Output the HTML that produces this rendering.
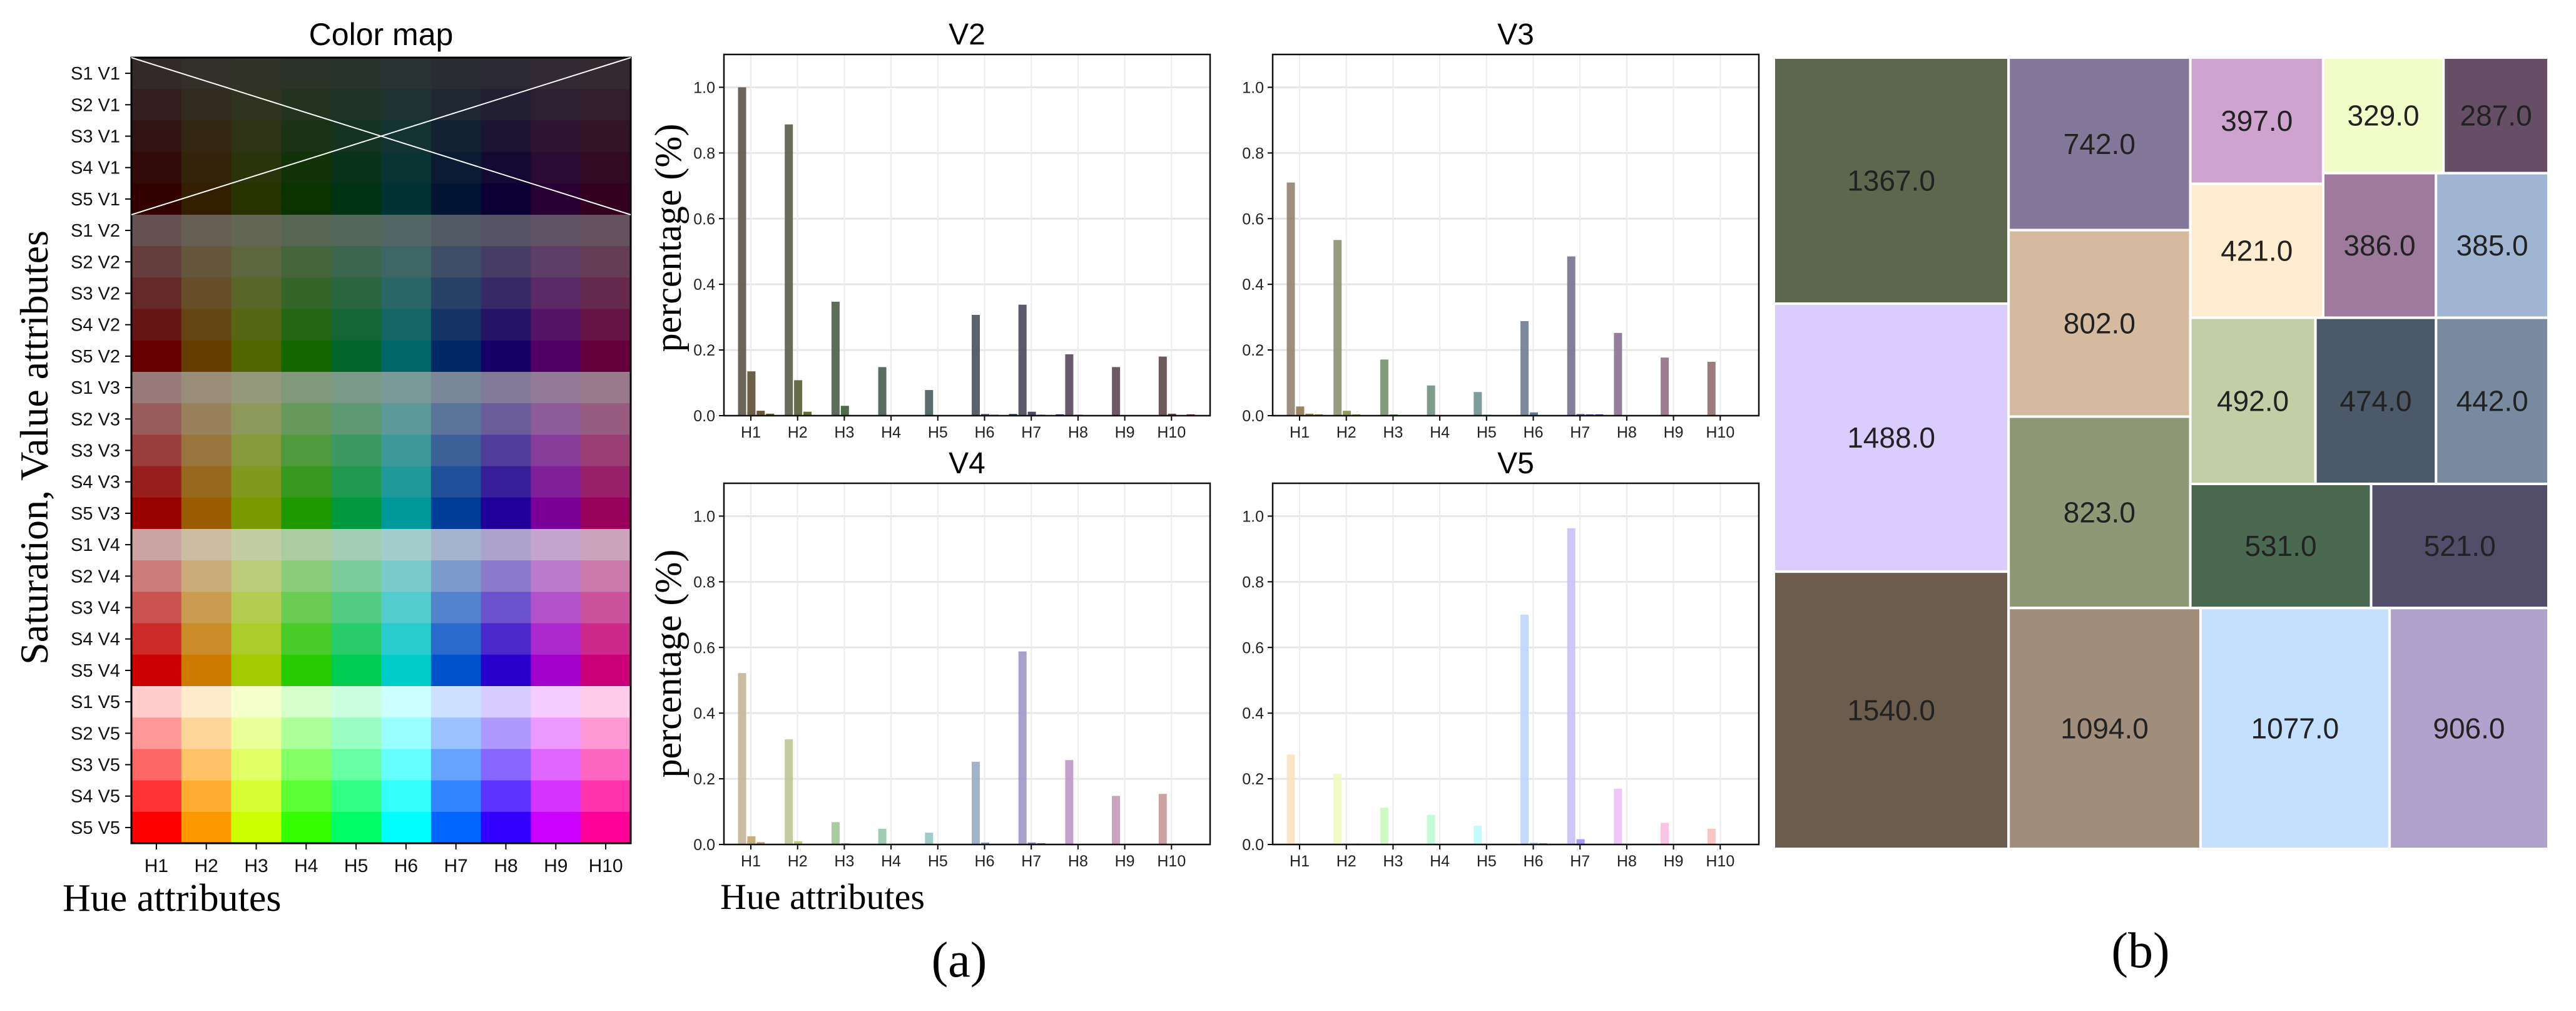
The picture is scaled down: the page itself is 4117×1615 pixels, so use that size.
<!DOCTYPE html>
<html><head><meta charset="utf-8"><style>
html,body{margin:0;padding:0;background:#fff;}
svg{display:block;}
text{font-family:"Liberation Sans","DejaVu Sans",sans-serif;}
.serif{font-family:"Liberation Serif",serif;}
</style></head><body>
<svg id="fig" xmlns="http://www.w3.org/2000/svg" width="4117" height="1615" viewBox="0 0 4117 1615"></svg>
<script>
// ---------- data ----------
const hueLabels = ["H1","H2","H3","H4","H5","H6","H7","H8","H9","H10"];
const rowLabels = [];
for (let v=1; v<=5; v++) for (let s=1; s<=5; s++) rowLabels.push("S"+s+" V"+v);
const yTicks = [0,0.2,0.4,0.6,0.8,1.0];
const yTickLabels = ["0.0","0.2","0.4","0.6","0.8","1.0"];
// values per hue group: [S1..S5]
const v2Values = [[1.0,0.135,0.015,0.006,0],[0.887,0.108,0.012,0,0],[0.347,0.03,0,0,0],[0.148,0,0,0,0],[0.078,0,0,0,0],[0.307,0.005,0.003,0,0.005],[0.338,0.012,0.003,0,0.004],[0.187,0.003,0,0,0],[0.148,0,0,0,0],[0.18,0.006,0,0.004,0]];
const v3Values = [[0.71,0.028,0.006,0.004,0],[0.535,0.015,0.004,0,0],[0.171,0.004,0,0,0],[0.092,0,0,0,0],[0.072,0.003,0,0,0],[0.288,0.01,0,0,0],[0.485,0.005,0.004,0.004,0],[0.252,0,0,0,0],[0.177,0,0,0,0],[0.164,0,0,0,0]];
const v4Values = [[0.522,0.025,0.007,0,0],[0.32,0.01,0,0,0],[0.068,0.004,0,0,0],[0.048,0,0,0,0],[0.036,0,0,0,0],[0.252,0.006,0,0,0],[0.588,0.006,0.004,0,0],[0.257,0,0,0,0],[0.148,0,0,0,0],[0.154,0,0,0,0]];
const v5Values = [[0.274,0.003,0,0,0],[0.215,0.004,0.004,0,0],[0.112,0,0,0,0],[0.09,0,0,0,0],[0.057,0,0,0,0],[0.70,0.005,0.004,0,0],[0.963,0.016,0,0,0],[0.17,0,0,0,0],[0.066,0,0,0,0],[0.048,0,0,0,0]];
const panelTitles = ["V2","V3","V4","V5"];
const panelValueIndex = [2,3,4,5];
// treemap values and colours
const tmValues = [1367,1488,1540,742,802,823,1094,1077,906,397,421,329,287,386,385,492,474,442,531,521];
const tmColors = ["#5d674d","#dacdfd","#6b5c4e","#84789a","#d5baa0","#8e9876","#a08d7b","#c4e0fe","#b1a2cd","#cfa3cf","#ffebcf","#f1fcc8","#654e66","#9e7a9c","#9fb5d2","#c2cea5","#4b5968","#778a9f","#4a6950","#524d68"];

// ---------- helpers ----------
const NS="http://www.w3.org/2000/svg";
const svg=document.getElementById('fig');
function el(tag,attrs,parent){const e=document.createElementNS(NS,tag);for(const k in attrs)e.setAttribute(k,attrs[k]);(parent||svg).appendChild(e);return e;}
function txt(str,attrs,parent){const e=el('text',attrs,parent);e.textContent=str;return e;}
function hsv(h,s,v){h=((h%360)+360)%360;const c=v*s,x=c*(1-Math.abs((h/60)%2-1)),m=v-c;let r,g,b;
 if(h<60)[r,g,b]=[c,x,0];else if(h<120)[r,g,b]=[x,c,0];else if(h<180)[r,g,b]=[0,c,x];else if(h<240)[r,g,b]=[0,x,c];else if(h<300)[r,g,b]=[x,0,c];else[r,g,b]=[c,0,x];
 const f=t=>Math.round((t+m)*255);return `rgb(${f(r)},${f(g)},${f(b)})`;}

// ---------- color map ----------
const cm={l:210,r:1008,t:92,b:1347};
const cmG=el('g',{},svg);


const cw=(cm.r-cm.l)/10, ch=(cm.b-cm.t)/25;
for(let row=0;row<25;row++){
 const v=Math.floor(row/5)+1, s=row%5+1;
 for(let h=0;h<10;h++){
  const c=el('rect',{x:cm.l+h*cw,y:cm.t+row*ch,width:cw+0.6,height:ch+0.6,fill:hsv(36*h,0.2*s,0.2*v)},cmG);
  
  
 }
 el('line',{x1:cm.l-10,x2:cm.l,y1:cm.t+(row+0.5)*ch,y2:cm.t+(row+0.5)*ch,stroke:'#000','stroke-width':2},cmG);
 const t=txt(rowLabels[row],{x:cm.l-18,y:cm.t+(row+0.5)*ch+10,'text-anchor':'end','font-size':29,fill:'#111','font-family':'DejaVu Sans'},cmG);
 
 
}
for(let h=0;h<10;h++){
 el('line',{x1:cm.l+(h+0.5)*cw,x2:cm.l+(h+0.5)*cw,y1:cm.b,y2:cm.b+10,stroke:'#000','stroke-width':2},cmG);
 const t=txt(hueLabels[h],{x:cm.l+(h+0.5)*cw,y:cm.b+46,'text-anchor':'middle','font-size':30,fill:'#111','font-family':'DejaVu Sans'},cmG);
 
 
}
el('rect',{x:cm.l,y:cm.t,width:cm.r-cm.l,height:cm.b-cm.t,fill:'none',stroke:'#000','stroke-width':3},cmG);
el('line',{x1:cm.l,y1:cm.t,x2:cm.r,y2:cm.t+5*ch,stroke:'#fff','stroke-width':2},cmG);
el('line',{x1:cm.l,y1:cm.t+5*ch,x2:cm.r,y2:cm.t,stroke:'#fff','stroke-width':2},cmG);
let t0=txt('Color map',{x:609,y:72,'text-anchor':'middle','font-size':50,fill:'#000','font-family':'DejaVu Sans'});


t0=txt('Saturation, Value attributes',{x:0,y:0,'text-anchor':'middle','font-size':64,fill:'#000',class:'serif',transform:'translate(76,715) rotate(-90)'});


t0=txt('Hue attributes',{x:100,y:1455,'font-size':62,fill:'#000',class:'serif'});



// ---------- bar panels ----------
const panelBoxes=[{l:1157,t:87,b:664},{l:2034,t:87,b:664},{l:1157,t:772,b:1349},{l:2034,t:772,b:1349}];
const panelData=[v2Values,v3Values,v4Values,v5Values];
const W=777;
panelBoxes.forEach((p,pi)=>{
 const g=el('g',{},svg);
 
 
 const ys=v=>p.b-(v/1.1)*(p.b-p.t);
 const xs=i=>p.l+43+i*74.7;
 // grid
 yTicks.forEach((v,i)=>{
  el('line',{x1:p.l,x2:p.l+W,y1:ys(v),y2:ys(v),stroke:'#e6e6e6','stroke-width':3},g);
  el('line',{x1:p.l-8,x2:p.l,y1:ys(v),y2:ys(v),stroke:'#000','stroke-width':2},g);
  const t=txt(yTickLabels[i],{x:p.l-14,y:ys(v)+9,'text-anchor':'end','font-size':25,fill:'#222'},g);
  
  
 });
 hueLabels.forEach((h,i)=>{
  el('line',{x1:xs(i),x2:xs(i),y1:p.t,y2:p.b,stroke:'#ececec','stroke-width':2},g);
  el('line',{x1:xs(i),x2:xs(i),y1:p.b,y2:p.b+8,stroke:'#000','stroke-width':2},g);
  const t=txt(h,{x:xs(i),y:p.b+35,'text-anchor':'middle','font-size':25,fill:'#222'},g);
  
  
 });
 const vIdx=panelValueIndex[pi];
 panelData[pi].forEach((grp,i)=>{
  grp.forEach((val,s)=>{
   if(val<=0)return;
   const cx=xs(i)-14+s*14.9;
   const r=el('rect',{x:cx-6.5,y:ys(val),width:13,height:p.b-ys(val),fill:hsv(36*(i+1),0.2*(s+1)+0.03,Math.min(1,0.2*vIdx-0.02)),opacity:0.92},g);
   
   
  });
 });
 el('rect',{x:p.l,y:p.t,width:W,height:p.b-p.t,fill:'none',stroke:'#111','stroke-width':2.5},g);
 const tt=txt(panelTitles[pi],{x:p.l+W/2,y:p.t-16,'text-anchor':'middle','font-size':48,fill:'#000'},g);
 
 
});
[380,1060].forEach((cy,i)=>{
 const t=txt('percentage (%)',{x:0,y:0,'text-anchor':'middle','font-size':60,fill:'#000',class:'serif',transform:`translate(1088,${cy}) rotate(-90)`});
 
 
});
t0=txt('Hue attributes',{x:1151,y:1452,'font-size':58,fill:'#000',class:'serif'});


t0=txt('(a)',{x:1533,y:1560,'text-anchor':'middle','font-size':80,fill:'#000',class:'serif'});


t0=txt('(b)',{x:3421,y:1545,'text-anchor':'middle','font-size':80,fill:'#000',class:'serif'});



// ---------- treemap (slice-and-dice tree over value indices) ----------
const tmTree={d:'x',c:[{d:'y',c:[0,1,2]},{d:'y',c:[
  {d:'x',c:[{d:'y',c:[3,4,5]},{d:'y',c:[
     {d:'x',c:[{d:'y',c:[9,10]},{d:'y',c:[{d:'x',c:[11,12]},{d:'x',c:[13,14]}]}]},
     {d:'x',c:[15,16,17]},
     {d:'x',c:[18,19]}]}]},
  {d:'x',c:[6,7,8]}]}]};
function tmSum(n){return typeof n==='number'?tmValues[n]:n.c.reduce((a,c)=>a+tmSum(c),0);}
const tmG=el('g',{},svg);


function layout(n,x,y,w,h){
 if(typeof n==='number'){
  const r=el('rect',{x:x,y:y,width:w,height:h,fill:tmColors[n],stroke:'#fff','stroke-width':4},tmG);
  
  
  const t=txt(tmValues[n].toFixed(1),{x:x+w/2,y:y+h/2+16,'text-anchor':'middle','font-size':46,fill:'#222'},tmG);
  
  
  return;}
 const tot=tmSum(n);let off=0;
 n.c.forEach(c=>{const f=tmSum(c)/tot;
  if(n.d==='x'){layout(c,x+off*w,y,f*w,h);}else{layout(c,x,y+off*h,w,f*h);}
  off+=f;});
}
layout(tmTree,2835,92,1238,1264);
</script>
</body></html>
